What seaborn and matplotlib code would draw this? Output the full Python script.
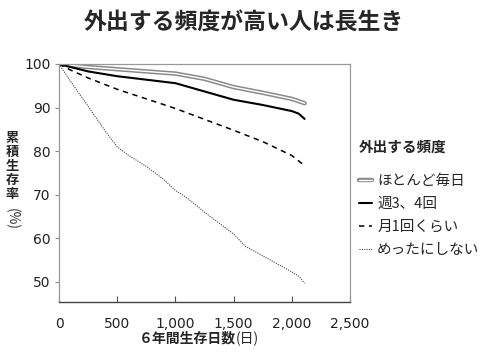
import matplotlib
matplotlib.use("Agg")
import matplotlib.pyplot as plt
import matplotlib.patheffects as pe
from matplotlib.ticker import FuncFormatter
import seaborn as sns
import pandas as pd

sns.set_style("white")
plt.rcParams['font.family'] = ['Noto Sans CJK JP', 'DejaVu Sans']

days_daily = [0, 100, 250, 500, 750, 1000, 1250, 1500, 1750, 2000, 2110]
val_daily = [100, 99.7, 99.3, 98.8, 98.3, 97.8, 96.6, 94.7, 93.4, 92.0, 91.0]

days_weekly = [0, 100, 250, 500, 750, 1000, 1250, 1500, 1750, 2000, 2060, 2110]
val_weekly = [100, 99.3, 98.3, 97.2, 96.4, 95.6, 93.7, 91.8, 90.6, 89.2, 88.6, 87.4]

days_monthly = [0, 100, 250, 500, 750, 1000, 1250, 1500, 1750, 2000, 2110]
val_monthly = [100, 98.6, 96.8, 94.2, 92.0, 89.8, 87.3, 84.8, 82.2, 79.0, 76.7]

days_rarely = [0, 100, 250, 400, 500, 600, 750, 900, 1000, 1100, 1250, 1500, 1600, 1750, 2000, 2060, 2110]
val_rarely = [100, 96.0, 90.3, 84.5, 81.0, 79.0, 76.5, 73.5, 71.0, 69.3, 66.0, 61.0, 58.2, 56.0, 52.3, 51.3, 49.7]

legend_title = "外出する頻度"
labels = ["ほとんど毎日", "週3、4回", "月1回くらい", "めったにしない"]
x_ticks = [0, 500, 1000, 1500, 2000, 2500]
y_ticks = [50, 60, 70, 80, 90, 100]

fig = plt.figure(figsize=(4.88, 3.53), dpi=100)
ax = fig.add_axes([59/488, 1-302/353, 291/488, 238/353])

df1 = pd.DataFrame({"d": days_daily, "v": val_daily})
df2 = pd.DataFrame({"d": days_weekly, "v": val_weekly})
df3 = pd.DataFrame({"d": days_monthly, "v": val_monthly})
df4 = pd.DataFrame({"d": days_rarely, "v": val_rarely})

sns.lineplot(data=df1, x="d", y="v", ax=ax, color="white", linewidth=1.0, label=labels[0],
             path_effects=[pe.Stroke(linewidth=3.2, foreground="#8a8a8a"), pe.Normal()])
sns.lineplot(data=df2, x="d", y="v", ax=ax, color="black", linewidth=1.5, label=labels[1])
sns.lineplot(data=df3, x="d", y="v", ax=ax, color="black", linewidth=1.1, linestyle=(0, (3.5, 3)), label=labels[2])
sns.lineplot(data=df4, x="d", y="v", ax=ax, color="#444444", linewidth=0.8, linestyle=(0, (1, 1.1)), label=labels[3])

ax.set_xlim(0, 2500)
ax.set_ylim(45.4, 100)
ax.set_xticks(x_ticks)
ax.set_yticks(y_ticks)
ax.xaxis.set_major_formatter(FuncFormatter(lambda v, p: f"{int(v):,}"))
for lab in ax.get_xticklabels() + ax.get_yticklabels():
    lab.set_fontfamily(['DejaVu Sans'])
    lab.set_fontsize(10)
    lab.set_color("#222222")
ax.tick_params(axis='x', direction='in', length=4, width=0.8, color="#555555", pad=10.5, bottom=True)
ax.tick_params(axis='y', direction='out', length=3, width=0.8, color="#888888", pad=3, left=True)
for s in ["top", "right", "left"]:
    ax.spines[s].set_color("#999999")
    ax.spines[s].set_linewidth(0.9)
ax.spines["bottom"].set_color("#444444")
ax.spines["bottom"].set_linewidth(1.0)
ax.set_xlabel("")
ax.set_ylabel("")

fig.text(359/488, 1-147/353, legend_title, ha="left", va="center",
         fontsize=10.5, fontweight="bold")
leg = ax.legend(loc="upper left", bbox_to_anchor=(359/488, 1-174/353),
                bbox_transform=fig.transFigure, frameon=False, fontsize=10.5,
                handlelength=0.9, handletextpad=0.35, labelspacing=0.62,
                borderaxespad=0, borderpad=0)

fig.text(0.5, 1-23/353, "外出する頻度が高い人は長生き", ha="center", va="center",
         fontsize=16.5, fontweight="bold")

fig.text(12/488, 1-166/353, "累\n積\n生\n存\n率", ha="center", va="center",
         fontsize=9.5, fontweight="bold", linespacing=1.0)
fig.text(12/488, 1-219/353, "(%)", ha="center", va="center", rotation=-90,
         fontsize=10, color="#333333")

fig.text(236/488, 1-338.5/353, "６年間生存日数", ha="right", va="center",
         fontsize=10, fontweight="bold")
fig.text(236/488, 1-338.5/353, "(日)", ha="left", va="center", fontsize=10)

fig.savefig("out.png", dpi=100)
